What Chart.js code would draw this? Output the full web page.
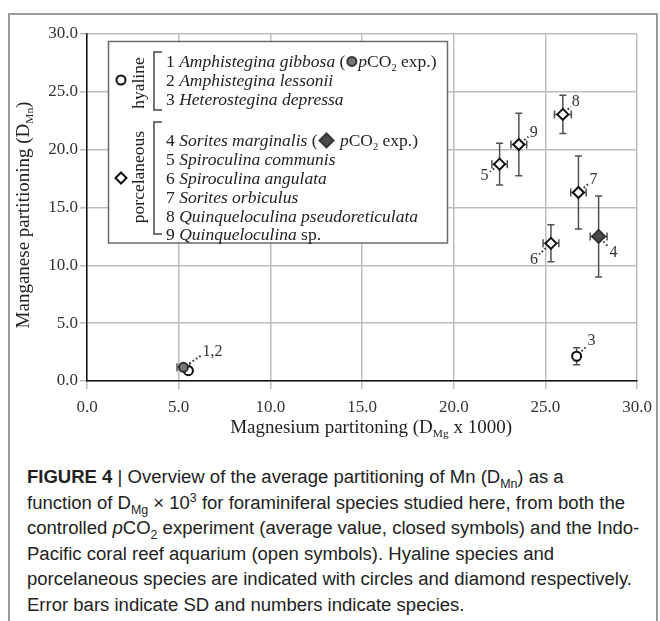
<!DOCTYPE html>
<html>
<head>
<meta charset="utf-8">
<script src="https://cdn.jsdelivr.net/npm/chart.js@4.4.1/dist/chart.umd.min.js"></script>
<style>
  html, body { margin: 0; padding: 0; background: #fff; }
  body { width: 660px; height: 621px; position: relative; overflow: hidden; }
  #frame { position: absolute; left: 8px; top: 13px; width: 650px; height: 640px; border: 2px solid #9a9a9a; box-sizing: border-box; }
  #wrap { position: absolute; left: 0; top: 0; width: 660px; height: 450px; }
  #caption { position: absolute; left: 27px; top: 465px; font-family: "Liberation Sans Narrow", "Liberation Sans", Arial, sans-serif; font-size: 18px; color: #222; white-space: nowrap; transform-origin: 0 0; }
  #caption div { height: 25.6px; line-height: 25.6px; }
  #caption sub, #caption sup { font-size: 12px; line-height: 0; }
</style>
</head>
<body>
<div id="frame"></div>
<div id="wrap"><canvas id="chart" width="660" height="450"></canvas></div>
<div id="caption">
  <div><b>FIGURE 4</b> | Overview of the average partitioning of Mn (D<sub>Mn</sub>) as a</div>
  <div>function of D<sub>Mg</sub> × 10<sup>3</sup> for foraminiferal species studied here, from both the</div>
  <div>controlled <i>p</i>CO<sub>2</sub> experiment (average value, closed symbols) and the Indo-</div>
  <div>Pacific coral reef aquarium (open symbols). Hyaline species and</div>
  <div id="wideLine">porcelaneous species are indicated with circles and diamond respectively.</div>
  <div>Error bars indicate SD and numbers indicate species.</div>
</div>
<script>
// species 1..9
const species = ["1", "2", "3", "4", "5", "6", "7", "8", "9"];
const wall = ["hyaline", "hyaline", "hyaline", "porcelaneous", "porcelaneous", "porcelaneous", "porcelaneous", "porcelaneous", "porcelaneous"];
const closed = [true, false, false, true, false, false, false, false, false];
const dMg = [5.26, 5.53, 26.7, 27.9, 22.5, 25.3, 26.8, 25.95, 23.55];
const dMn = [1.18, 0.89, 2.14, 12.5, 18.75, 11.9, 16.3, 23.05, 20.45];
const dMgSD = [0.35, 0.15, 0.1, 0.46, 0.42, 0.43, 0.42, 0.46, 0.43];
const dMnSD = [0.2, 0.1, 0.73, 3.5, 1.8, 1.6, 3.15, 1.65, 2.7];
const pointLabels = ["1,2", "", "3", "4", "5", "6", "7", "8", "9"];
const xTicks = [0, 5, 10, 15, 20, 25, 30];
const yTicks = [0, 5, 10, 15, 20, 25, 30];

// where each number sits relative to its marker (px)
const labelOffset = [[24, -16], null, [15, -15], [15, 16], [-15, 12], [-17, 16], [15, -13], [13, -13], [15, -12]];

const SERIF = '"Liberation Serif", "Times New Roman", serif';

function pick(test) {
  const out = [];
  species.forEach((s, i) => { if (test(i)) out.push({ x: dMg[i], y: dMn[i] }); });
  return out;
}

const errorBars = {
  id: "errorBars",
  beforeDatasetsDraw(chart) {
    const { ctx, scales: { x, y } } = chart;
    ctx.save();
    ctx.strokeStyle = "#505050";
    ctx.lineWidth = 1.5;
    species.forEach((s, i) => {
      const px = x.getPixelForValue(dMg[i]);
      const py = y.getPixelForValue(dMn[i]);
      const top = y.getPixelForValue(dMn[i] + dMnSD[i]);
      const bot = y.getPixelForValue(dMn[i] - dMnSD[i]);
      const lft = x.getPixelForValue(dMg[i] - dMgSD[i]);
      const rgt = x.getPixelForValue(dMg[i] + dMgSD[i]);
      ctx.beginPath();
      ctx.moveTo(px, top); ctx.lineTo(px, bot);
      ctx.moveTo(px - 3.5, top); ctx.lineTo(px + 3.5, top);
      ctx.moveTo(px - 3.5, bot); ctx.lineTo(px + 3.5, bot);
      ctx.moveTo(lft, py); ctx.lineTo(rgt, py);
      ctx.moveTo(lft, py - 4); ctx.lineTo(lft, py + 4);
      ctx.moveTo(rgt, py - 4); ctx.lineTo(rgt, py + 4);
      ctx.stroke();
    });
    ctx.restore();
  }
};

const numberLabels = {
  id: "numberLabels",
  afterDatasetsDraw(chart) {
    const { ctx, scales: { x, y } } = chart;
    ctx.save();
    ctx.font = "16px " + SERIF;
    ctx.fillStyle = "#333";
    ctx.textAlign = "center";
    ctx.textBaseline = "middle";
    species.forEach((s, i) => {
      if (!pointLabels[i]) return;
      const px = x.getPixelForValue(dMg[i]);
      const py = y.getPixelForValue(dMn[i]);
      const [dx, dy] = labelOffset[i];
      const len = Math.hypot(dx, dy);
      const ux = dx / len, uy = dy / len;
      ctx.strokeStyle = "#333";
      ctx.lineWidth = 2;
      ctx.setLineDash([1.6, 2.4]);
      ctx.beginPath();
      ctx.moveTo(px + ux * 7, py + uy * 7);
      ctx.lineTo(px + ux * (len - 7), py + uy * (len - 7));
      ctx.stroke();
      ctx.setLineDash([]);
      ctx.fillText(pointLabels[i], px + dx + (pointLabels[i].length > 1 ? 5 : 0), py + dy);
    });
    ctx.restore();
  }
};

// text runs: n = upright, i = italic, sub = subscript, mark = symbol
function drawRuns(ctx, x, y, runs, size) {
  runs.forEach(r => {
    if (r.mark) {
      drawMark(ctx, x + r.w / 2, y - size * 0.32, r.mark);
      x += r.w;
      return;
    }
    const fs = r.s === "sub" ? size * 0.6 : size;
    ctx.font = (r.s === "i" ? "italic " : "") + fs + "px " + SERIF;
    ctx.fillText(r.t, x, r.s === "sub" ? y + size * 0.22 : y);
    x += ctx.measureText(r.t).width;
  });
  return x;
}

function drawMark(ctx, cx, cy, kind) {
  ctx.save();
  ctx.lineWidth = 2;
  ctx.beginPath();
  if (kind === "circleOpen" || kind === "circleFill") {
    ctx.arc(cx, cy, 4.5, 0, Math.PI * 2);
  } else {
    const r = kind === "diamondFill" ? 7 : 5.5;
    ctx.moveTo(cx, cy - r); ctx.lineTo(cx + r, cy); ctx.lineTo(cx, cy + r); ctx.lineTo(cx - r, cy); ctx.closePath();
  }
  ctx.fillStyle = kind === "circleFill" ? "#777" : kind === "diamondFill" ? "#4a4a4a" : "#fff";
  ctx.strokeStyle = kind.endsWith("Fill") ? "#333" : "#111";
  ctx.fill();
  ctx.stroke();
  ctx.restore();
}

const legendLines = [
  [67, [{ t: "1 ", s: "n" }, { t: "Amphistegina gibbosa", s: "i" }, { t: " (", s: "n" }, { mark: "circleFill", w: 13 }, { t: "p", s: "i" }, { t: "CO", s: "n" }, { t: "2", s: "sub" }, { t: " exp.)", s: "n" }]],
  [86, [{ t: "2 ", s: "n" }, { t: "Amphistegina lessonii", s: "i" }]],
  [105, [{ t: "3 ", s: "n" }, { t: "Heterostegina depressa", s: "i" }]],
  [146, [{ t: "4 ", s: "n" }, { t: "Sorites marginalis", s: "i" }, { t: " (", s: "n" }, { mark: "diamondFill", w: 18 }, { t: " p", s: "i" }, { t: "CO", s: "n" }, { t: "2", s: "sub" }, { t: " exp.)", s: "n" }]],
  [165, [{ t: "5 ", s: "n" }, { t: "Spiroculina communis", s: "i" }]],
  [184, [{ t: "6 ", s: "n" }, { t: "Spiroculina angulata", s: "i" }]],
  [203, [{ t: "7 ", s: "n" }, { t: "Sorites orbiculus", s: "i" }]],
  [221.5, [{ t: "8 ", s: "n" }, { t: "Quinqueloculina pseudoreticulata", s: "i" }]],
  [240, [{ t: "9 ", s: "n" }, { t: "Quinqueloculina", s: "i" }, { t: " sp.", s: "n" }]]
];

const legendBox = {
  id: "legendBox",
  afterDraw(chart) {
    const ctx = chart.ctx;
    ctx.save();
    ctx.fillStyle = "#fff";
    ctx.fillRect(108, 41, 340, 202);
    ctx.strokeStyle = "#6a6a6a";
    ctx.lineWidth = 1.5;
    ctx.strokeRect(108.5, 41.5, 339, 201.5);

    ctx.fillStyle = "#222";
    ctx.textBaseline = "alphabetic";
    ctx.textAlign = "left";
    legendLines.forEach(([yy, runs]) => drawRuns(ctx, 166, yy, runs, 17.5));

    // brackets
    ctx.strokeStyle = "#444";
    ctx.lineWidth = 1.5;
    ctx.beginPath();
    ctx.moveTo(162, 52); ctx.lineTo(154, 52); ctx.lineTo(154, 110); ctx.lineTo(162, 110);
    ctx.moveTo(162, 122); ctx.lineTo(154, 122); ctx.lineTo(154, 234); ctx.lineTo(162, 234);
    ctx.stroke();

    // group names, rotated
    ctx.font = "17.5px " + SERIF;
    ctx.textAlign = "center";
    [["hyaline", 83], ["porcelaneous", 177]].forEach(([t, cy]) => {
      ctx.save();
      ctx.translate(144, cy);
      ctx.rotate(-Math.PI / 2);
      ctx.fillText(t, 0, 0);
      ctx.restore();
    });
    drawMark(ctx, 121, 80, "circleOpen");
    drawMark(ctx, 121, 178, "diamondOpen");
    ctx.restore();
  }
};

const axisTitles = {
  id: "axisTitles",
  afterDraw(chart) {
    const { ctx, chartArea: a } = chart;
    ctx.save();
    ctx.fillStyle = "#222";
    ctx.textBaseline = "alphabetic";
    ctx.textAlign = "left";
    const size = 19;
    const xRuns = [{ t: "Magnesium partitoning (D", s: "n" }, { t: "Mg", s: "sub" }, { t: " x 1000)", s: "n" }];
    const yRuns = [{ t: "Manganese partitioning (D", s: "n" }, { t: "Mn", s: "sub" }, { t: ")", s: "n" }];
    const width = runs => runs.reduce((w, r) => {
      ctx.font = (r.s === "sub" ? size * 0.6 : size) + "px " + SERIF;
      return w + ctx.measureText(r.t).width;
    }, 0);
    const xw = width(xRuns);
    drawRuns(ctx, (a.left + a.right) / 2 + 9 - xw / 2, 433, xRuns, size);
    const yw = width(yRuns);
    ctx.translate(29, 215);
    ctx.rotate(-Math.PI / 2);
    drawRuns(ctx, -yw / 2, 0, yRuns, size);
    ctx.restore();
  }
};

const tickFont = { family: SERIF, size: 17 };

new Chart(document.getElementById("chart"), {
  type: "scatter",
  data: {
    datasets: [
      { data: pick(i => wall[i] === "hyaline" && closed[i]), pointStyle: "circle", pointRadius: 4.5, borderWidth: 2, borderColor: "#333", backgroundColor: "#777" },
      { data: pick(i => wall[i] === "hyaline" && !closed[i]), pointStyle: "circle", pointRadius: 4.5, borderWidth: 2, borderColor: "#111", backgroundColor: "#fff" },
      { data: pick(i => wall[i] === "porcelaneous" && closed[i]), pointStyle: "rectRot", pointRadius: 6.5, borderWidth: 2, borderColor: "#333", backgroundColor: "#4a4a4a" },
      { data: pick(i => wall[i] === "porcelaneous" && !closed[i]), pointStyle: "rectRot", pointRadius: 5.5, borderWidth: 2, borderColor: "#111", backgroundColor: "#fff" }
    ]
  },
  options: {
    responsive: false,
    animation: false,
    events: [],
    layout: { padding: { left: 0, right: 20, top: 34, bottom: 0 } },
    plugins: { legend: { display: false }, tooltip: { enabled: false } },
    scales: {
      x: {
        type: "linear", min: 0, max: 30,
        afterBuildTicks: s => { s.ticks = xTicks.map(v => ({ value: v })); },
        afterFit: s => { s.height = 69; },
        grid: { color: "#bdbdbd", lineWidth: 1.5, tickLength: 8, tickColor: "#bdbdbd" },
        border: { display: true, color: "#111", width: 1.5 },
        ticks: { font: tickFont, color: "#333", padding: 8, maxRotation: 0, callback: v => v.toFixed(1) }
      },
      y: {
        type: "linear", min: 0, max: 30,
        afterBuildTicks: s => { s.ticks = yTicks.map(v => ({ value: v })); },
        afterFit: s => { s.width = 87; },
        grid: { color: "#bdbdbd", lineWidth: 1.5, tickLength: 7, tickColor: "#bdbdbd" },
        border: { display: true, color: "#111", width: 1.5 },
        ticks: { font: tickFont, color: "#333", padding: 2, callback: v => v.toFixed(1) }
      }
    }
  },
  plugins: [errorBars, numberLabels, legendBox, axisTitles]
});

// squeeze/stretch the caption so its widest line fits like the original
const cap = document.getElementById("caption");
const wide = document.getElementById("wideLine");
const range = document.createRange();
range.selectNodeContents(wide);
const w = range.getBoundingClientRect().width;
if (w > 0) cap.style.transform = "scaleX(" + (605 / w) + ")";
</script>
</body>
</html>
